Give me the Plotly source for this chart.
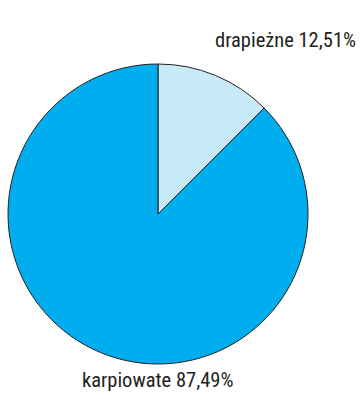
import plotly.graph_objects as go

labels = ["drapieżne", "karpiowate"]
values = [12.51, 87.49]
colors = ["#c9eaf9", "#00aeef"]

fig = go.Figure(go.Pie(
    labels=labels,
    values=values,
    sort=False,
    direction="clockwise",
    rotation=0,
    marker=dict(colors=colors, line=dict(color="#231f20", width=1)),
    textinfo="none",
    hoverinfo="label+percent",
    domain=dict(x=[8 / 362, 308 / 362], y=[1 - 364 / 393, 1 - 64 / 393]),
    showlegend=False,
))

def fmt(v):
    return f"{v:.2f}".replace(".", ",") + "%"

font = dict(family="Roboto Condensed, Liberation Sans Narrow, sans-serif", size=20.5, color="#231f20")
fig.add_annotation(x=358 / 362, y=1 - 40 / 393, xref="paper", yref="paper",
                   xanchor="right", yanchor="middle", showarrow=False,
                   text=f"{labels[0]} {fmt(values[0])}", font=font)
fig.add_annotation(x=157 / 362, y=1 - 380 / 393, xref="paper", yref="paper",
                   xanchor="center", yanchor="middle", showarrow=False,
                   text=f"{labels[1]} {fmt(values[1])}", font=font)

fig.update_layout(width=362, height=393, margin=dict(l=0, r=0, t=0, b=0),
                  paper_bgcolor="white", plot_bgcolor="white")
fig.write_html("out.html")
